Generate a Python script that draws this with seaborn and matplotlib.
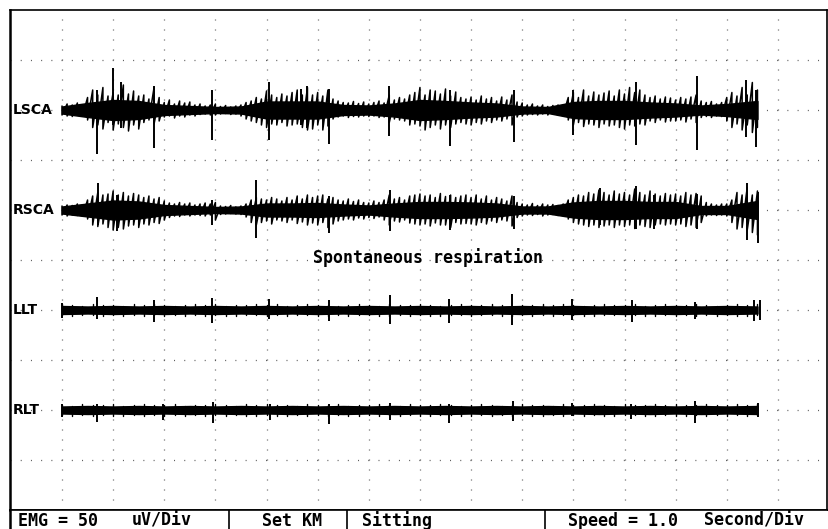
import numpy as np
import pandas as pd
import matplotlib
matplotlib.use("Agg")
import matplotlib.pyplot as plt
import seaborn as sns

sns.set_theme(style="white")
plt.rcParams['font.family'] = ['DejaVu Sans Mono', 'DejaVu Sans']
plt.rcParams['lines.scale_dashes'] = False

# ---------------- data (x in seconds = divisions, y in divisions of 50 uV) ----------------
channels = ["LSCA", "RSCA", "LLT", "RLT"]
baselines = [8, 6, 4, 2]

fine_t = np.round(np.arange(1.0, 14.61, 0.1), 2)     # hair-tip sampling, 137 samples
coarse_t = np.round(np.arange(1.0, 14.61, 0.2), 2)   # 69 samples
core_t = [1.0, 1.5, 2.0, 2.5, 3.0, 3.5, 4.0, 4.5, 5.0, 5.5, 6.0, 6.5, 7.0, 7.5,
          8.0, 8.5, 9.0, 9.5, 10.0, 10.5, 11.0, 11.5, 12.0, 12.5, 13.0, 13.5, 14.0, 14.6]

# hair tips above / below baseline
lsca_upper = [0.08, 0.12, 0.10, 0.14, 0.09, 0.25, 0.40, 0.30, 0.45, 0.28,
              0.35, 0.30, 0.50, 0.32, 0.38, 0.28, 0.30, 0.22, 0.45, 0.25,
              0.15, 0.20, 0.12, 0.18, 0.14, 0.16, 0.10, 0.12, 0.08, 0.10,
              0.12, 0.07, 0.09, 0.06, 0.08, 0.10, 0.15, 0.18, 0.25, 0.22,
              0.38, 0.30, 0.25, 0.32, 0.28, 0.35, 0.40, 0.30, 0.45, 0.30,
              0.35, 0.28, 0.40, 0.22, 0.18, 0.15, 0.14, 0.17, 0.13, 0.16,
              0.12, 0.15, 0.18, 0.14, 0.30, 0.20, 0.25, 0.22, 0.30, 0.35,
              0.45, 0.30, 0.40, 0.38, 0.32, 0.42, 0.28, 0.36, 0.25, 0.22,
              0.26, 0.20, 0.28, 0.22, 0.25, 0.18, 0.26, 0.20, 0.30, 0.16,
              0.14, 0.10, 0.12, 0.08, 0.10, 0.07, 0.09, 0.10, 0.08, 0.25,
              0.35, 0.25, 0.40, 0.28, 0.36, 0.30, 0.34, 0.38, 0.28, 0.40,
              0.32, 0.45, 0.35, 0.40, 0.30, 0.25, 0.28, 0.22, 0.26, 0.24,
              0.20, 0.25, 0.22, 0.26, 0.30, 0.18, 0.15, 0.17, 0.12, 0.15,
              0.25, 0.35, 0.28, 0.45, 0.30, 0.55, 0.40]
lsca_lower = [0.10, 0.12, 0.13, 0.10, 0.12, 0.20, 0.35, 0.30, 0.38, 0.25,
              0.40, 0.28, 0.35, 0.42, 0.30, 0.38, 0.25, 0.20, 0.28, 0.22,
              0.14, 0.12, 0.16, 0.12, 0.14, 0.10, 0.12, 0.09, 0.08, 0.10,
              0.10, 0.08, 0.07, 0.09, 0.08, 0.12, 0.18, 0.22, 0.25, 0.30,
              0.35, 0.28, 0.30, 0.25, 0.32, 0.30, 0.28, 0.35, 0.40, 0.38,
              0.30, 0.40, 0.32, 0.18, 0.14, 0.12, 0.15, 0.13, 0.14, 0.12,
              0.13, 0.12, 0.15, 0.14, 0.25, 0.18, 0.20, 0.22, 0.30, 0.28,
              0.32, 0.40, 0.35, 0.30, 0.38, 0.30, 0.35, 0.28, 0.25, 0.28,
              0.30, 0.25, 0.28, 0.22, 0.25, 0.20, 0.22, 0.18, 0.30, 0.14,
              0.12, 0.10, 0.09, 0.10, 0.08, 0.10, 0.07, 0.09, 0.10, 0.20,
              0.30, 0.25, 0.33, 0.28, 0.30, 0.35, 0.28, 0.32, 0.30, 0.35,
              0.38, 0.30, 0.32, 0.28, 0.30, 0.22, 0.25, 0.20, 0.24, 0.22,
              0.22, 0.20, 0.24, 0.18, 0.25, 0.15, 0.13, 0.15, 0.12, 0.13,
              0.22, 0.35, 0.28, 0.40, 0.30, 0.45, 0.35]
lsca_core = [0.07, 0.14, 0.20, 0.18, 0.10, 0.08, 0.06, 0.07, 0.17, 0.17, 0.17, 0.10, 0.09, 0.13,
             0.20, 0.18, 0.15, 0.13, 0.07, 0.06, 0.16, 0.18, 0.18, 0.15, 0.13, 0.09, 0.12, 0.18]
lsca_spike_t = [1.69, 2.00, 2.16, 2.79, 3.94, 5.05, 5.67, 5.80, 6.22, 7.40,
                8.59, 9.84, 11.00, 12.22, 13.42, 14.38, 14.58]
lsca_spike_up = [0.40, 0.85, 0.55, 0.48, 0.41, 0.55, 0.43, 0.48, 0.43, 0.47,
                 0.40, 0.41, 0.40, 0.55, 0.68, 0.60, 0.40]
lsca_spike_dn = [0.87, 0.30, 0.35, 0.75, 0.59, 0.60, 0.30, 0.35, 0.68, 0.52,
                 0.72, 0.63, 0.50, 0.70, 0.79, 0.53, 0.74]

rsca_upper = [0.08, 0.10, 0.09, 0.12, 0.10, 0.20, 0.28, 0.35, 0.30, 0.32,
              0.38, 0.30, 0.35, 0.28, 0.33, 0.30, 0.25, 0.28, 0.22, 0.25,
              0.18, 0.14, 0.12, 0.15, 0.12, 0.14, 0.10, 0.12, 0.14, 0.12,
              0.15, 0.08, 0.07, 0.09, 0.06, 0.08, 0.12, 0.20, 0.25, 0.22,
              0.20, 0.25, 0.22, 0.18, 0.25, 0.20, 0.28, 0.22, 0.30, 0.25,
              0.28, 0.30, 0.22, 0.25, 0.20, 0.18, 0.22, 0.17, 0.20, 0.15,
              0.14, 0.18, 0.15, 0.20, 0.30, 0.22, 0.25, 0.20, 0.28, 0.30,
              0.32, 0.28, 0.30, 0.25, 0.33, 0.27, 0.30, 0.25, 0.28, 0.30,
              0.25, 0.30, 0.22, 0.28, 0.20, 0.25, 0.22, 0.18, 0.28, 0.15,
              0.12, 0.10, 0.13, 0.09, 0.12, 0.10, 0.11, 0.09, 0.12, 0.20,
              0.25, 0.30, 0.28, 0.35, 0.32, 0.40, 0.35, 0.30, 0.38, 0.32,
              0.35, 0.30, 0.42, 0.35, 0.30, 0.38, 0.32, 0.28, 0.33, 0.30,
              0.32, 0.28, 0.35, 0.30, 0.33, 0.28, 0.15, 0.12, 0.10, 0.12,
              0.12, 0.20, 0.35, 0.30, 0.45, 0.30, 0.38]
rsca_lower = [0.10, 0.12, 0.10, 0.11, 0.12, 0.18, 0.30, 0.33, 0.28, 0.35,
              0.40, 0.35, 0.38, 0.32, 0.30, 0.35, 0.28, 0.30, 0.25, 0.27,
              0.20, 0.15, 0.12, 0.13, 0.10, 0.12, 0.10, 0.11, 0.12, 0.10,
              0.20, 0.09, 0.08, 0.07, 0.08, 0.09, 0.14, 0.25, 0.30, 0.25,
              0.22, 0.28, 0.20, 0.22, 0.25, 0.20, 0.27, 0.24, 0.30, 0.26,
              0.30, 0.25, 0.35, 0.28, 0.22, 0.20, 0.18, 0.20, 0.16, 0.18,
              0.15, 0.17, 0.14, 0.20, 0.30, 0.22, 0.24, 0.20, 0.26, 0.28,
              0.30, 0.28, 0.32, 0.26, 0.30, 0.30, 0.35, 0.25, 0.28, 0.27,
              0.28, 0.30, 0.25, 0.28, 0.22, 0.25, 0.20, 0.22, 0.32, 0.15,
              0.12, 0.10, 0.11, 0.09, 0.12, 0.10, 0.09, 0.11, 0.10, 0.18,
              0.25, 0.28, 0.30, 0.33, 0.30, 0.35, 0.32, 0.30, 0.35, 0.30,
              0.33, 0.30, 0.37, 0.30, 0.33, 0.35, 0.30, 0.28, 0.30, 0.28,
              0.30, 0.28, 0.33, 0.30, 0.35, 0.25, 0.12, 0.10, 0.11, 0.10,
              0.12, 0.25, 0.38, 0.35, 0.40, 0.45, 0.50]
rsca_core = [0.07, 0.13, 0.19, 0.17, 0.10, 0.08, 0.06, 0.07, 0.13, 0.13, 0.14, 0.11, 0.09, 0.13,
             0.16, 0.16, 0.15, 0.13, 0.07, 0.07, 0.15, 0.18, 0.18, 0.16, 0.16, 0.08, 0.08, 0.18]
rsca_spike_t = [1.70, 2.07, 3.94, 4.80, 6.22, 7.41, 8.59, 9.84, 11.52, 12.22,
                12.58, 13.42, 14.40, 14.62]
rsca_spike_up = [0.55, 0.30, 0.20, 0.61, 0.28, 0.40, 0.30, 0.28, 0.45, 0.48,
                 0.30, 0.33, 0.55, 0.37]
rsca_spike_dn = [0.30, 0.41, 0.30, 0.55, 0.45, 0.41, 0.40, 0.37, 0.30, 0.37,
                 0.37, 0.37, 0.60, 0.65]

llt_upper = [0.12, 0.10, 0.09, 0.12, 0.10, 0.11, 0.09, 0.12, 0.10, 0.12,
             0.11, 0.09, 0.10, 0.12, 0.10, 0.12, 0.09, 0.11, 0.10, 0.12,
             0.10, 0.13, 0.09, 0.11, 0.12, 0.10, 0.11, 0.09, 0.10, 0.12,
             0.11, 0.09, 0.12, 0.10, 0.11, 0.12, 0.10, 0.09, 0.11, 0.12,
             0.10, 0.11, 0.13, 0.10, 0.09, 0.11, 0.10, 0.12, 0.10, 0.12,
             0.11, 0.09, 0.10, 0.12, 0.11, 0.10, 0.12, 0.09, 0.11, 0.12,
             0.10, 0.11, 0.12, 0.10, 0.09, 0.11, 0.12, 0.10, 0.12]
llt_lower = [0.10, 0.12, 0.10, 0.09, 0.12, 0.10, 0.11, 0.09, 0.12, 0.10,
             0.12, 0.10, 0.11, 0.09, 0.12, 0.10, 0.11, 0.12, 0.09, 0.10,
             0.11, 0.10, 0.12, 0.09, 0.10, 0.12, 0.11, 0.10, 0.12, 0.09,
             0.10, 0.12, 0.11, 0.09, 0.12, 0.10, 0.11, 0.12, 0.10, 0.09,
             0.12, 0.10, 0.09, 0.11, 0.12, 0.10, 0.12, 0.09, 0.11, 0.10,
             0.10, 0.12, 0.11, 0.09, 0.10, 0.12, 0.10, 0.11, 0.12, 0.09,
             0.11, 0.10, 0.12, 0.09, 0.11, 0.10, 0.12, 0.11, 0.10]
llt_core = [0.08, 0.07, 0.08, 0.07, 0.08, 0.07, 0.08, 0.07, 0.08, 0.07, 0.08, 0.07, 0.08, 0.07,
            0.08, 0.07, 0.08, 0.07, 0.08, 0.07, 0.08, 0.07, 0.08, 0.07, 0.08, 0.07, 0.08, 0.07]
llt_spike_t = [1.00, 1.68, 2.80, 3.93, 5.04, 6.22, 7.42, 8.57, 9.80, 10.97,
               12.15, 13.37, 14.53, 14.64]
llt_spike_up = [0.15, 0.27, 0.20, 0.25, 0.23, 0.20, 0.30, 0.23, 0.32, 0.22,
                0.20, 0.17, 0.20, 0.20]
llt_spike_dn = [0.15, 0.18, 0.23, 0.25, 0.18, 0.22, 0.27, 0.25, 0.30, 0.20,
                0.23, 0.18, 0.22, 0.20]

rlt_upper = [0.11, 0.09, 0.12, 0.10, 0.11, 0.12, 0.09, 0.10, 0.12, 0.11,
             0.10, 0.12, 0.09, 0.11, 0.10, 0.12, 0.11, 0.09, 0.12, 0.10,
             0.12, 0.10, 0.11, 0.09, 0.12, 0.11, 0.10, 0.12, 0.09, 0.11,
             0.10, 0.12, 0.11, 0.09, 0.12, 0.10, 0.11, 0.12, 0.10, 0.09,
             0.11, 0.12, 0.10, 0.09, 0.11, 0.12, 0.10, 0.11, 0.09, 0.12,
             0.10, 0.11, 0.12, 0.10, 0.09, 0.12, 0.11, 0.10, 0.12, 0.11,
             0.12, 0.10, 0.11, 0.12, 0.10, 0.11, 0.12, 0.11, 0.12]
rlt_lower = [0.10, 0.12, 0.10, 0.11, 0.09, 0.12, 0.11, 0.10, 0.12, 0.09,
             0.11, 0.10, 0.12, 0.10, 0.11, 0.09, 0.12, 0.10, 0.11, 0.12,
             0.09, 0.11, 0.12, 0.10, 0.11, 0.09, 0.12, 0.10, 0.11, 0.12,
             0.10, 0.11, 0.09, 0.12, 0.10, 0.11, 0.12, 0.10, 0.09, 0.11,
             0.12, 0.10, 0.11, 0.09, 0.12, 0.10, 0.11, 0.12, 0.10, 0.11,
             0.09, 0.12, 0.10, 0.11, 0.12, 0.10, 0.09, 0.11, 0.12, 0.10,
             0.11, 0.12, 0.10, 0.11, 0.09, 0.12, 0.10, 0.11, 0.10]
rlt_core = [0.07, 0.08, 0.07, 0.08, 0.07, 0.08, 0.07, 0.08, 0.07, 0.08, 0.07, 0.08, 0.07, 0.08,
            0.07, 0.08, 0.07, 0.08, 0.07, 0.08, 0.07, 0.08, 0.07, 0.08, 0.07, 0.08, 0.07, 0.08]
rlt_spike_t = [1.00, 1.68, 2.97, 3.95, 5.06, 6.22, 7.42, 8.57, 9.82, 10.97,
               12.13, 13.37, 14.62]
rlt_spike_up = [0.13, 0.12, 0.12, 0.17, 0.12, 0.12, 0.15, 0.12, 0.19, 0.15,
                0.12, 0.19, 0.15]
rlt_spike_dn = [0.13, 0.23, 0.20, 0.25, 0.20, 0.28, 0.20, 0.25, 0.21, 0.12,
                0.17, 0.25, 0.13]

annotation = "Spontaneous respiration"
status_items = ["EMG = 50", "uV/Div", "Set KM", "Sitting", "Speed = 1.0", "Second/Div"]

traces = {
    "LSCA": (fine_t, lsca_upper, lsca_lower, lsca_core, lsca_spike_t, lsca_spike_up, lsca_spike_dn),
    "RSCA": (fine_t, rsca_upper, rsca_lower, rsca_core, rsca_spike_t, rsca_spike_up, rsca_spike_dn),
    "LLT": (coarse_t, llt_upper, llt_lower, llt_core, llt_spike_t, llt_spike_up, llt_spike_dn),
    "RLT": (coarse_t, rlt_upper, rlt_lower, rlt_core, rlt_spike_t, rlt_spike_up, rlt_spike_dn),
}
scribble = {"LSCA": True, "RSCA": True, "LLT": False, "RLT": False}

# ---------------- figure ----------------
W, H = 829, 529
fig = plt.figure(figsize=(W / 100, H / 100), dpi=100)
fig.patch.set_facecolor("white")
L, R, T, B = 10, 827, 10, 510
ax = fig.add_axes([L / W, 1 - B / H, (R - L) / W, (B - T) / H])
ax.set_facecolor("white")
ax.set_xlim(-0.017, 15.96)
ax.set_ylim(0, 10)

# dotted oscilloscope grid
ax.set_xticks(range(1, 16))
ax.set_yticks(range(1, 10))
ax.tick_params(length=0, labelbottom=False, labelleft=False)
ax.set_axisbelow(True)
ax.xaxis.grid(True, color="#555555", linewidth=0.9, linestyle=(0, (0.7, 6.5)))
ax.yaxis.grid(True, color="#555555", linewidth=0.9, linestyle=(0, (0.7, 6.66)))
for side, sp in ax.spines.items():
    sp.set_visible(True)
    sp.set_color("black")
    sp.set_linewidth(1.2)
ax.spines["left"].set_linewidth(1.8)

for name, base in zip(channels, baselines):
    ht, up, lo, core, st, su, sd = traces[name]
    up = np.asarray(up)
    lo = np.asarray(lo)
    core = np.asarray(core)
    # solid core of the trace
    ax.fill_between(core_t, base - core, base + core, color="black", linewidth=1.0, zorder=3)
    pen = pd.DataFrame({
        "t": np.repeat(ht, 2),
        "v": np.ravel(np.column_stack([base + up, base - lo])),
        "k": np.repeat(np.arange(len(ht)), 2),
    })
    if scribble[name]:
        # pen scribble: up to each upper hair tip, down to each lower one
        sns.lineplot(data=pen, x="t", y="v", estimator=None, sort=False,
                     color="black", linewidth=1.1, ax=ax, legend=False, zorder=4)
    else:
        # short vertical strokes only (fuzzy band)
        sns.lineplot(data=pen, x="t", y="v", units="k", estimator=None, sort=False,
                     color="black", linewidth=1.0, ax=ax, legend=False, zorder=4)
    # isolated large deflections
    ax.vlines(st, base - np.asarray(sd), base + np.asarray(su), color="black",
              linewidth=1.4, zorder=4)
    ax.text((13 - L) / (R - L), base, name, transform=ax.get_yaxis_transform(),
            ha="left", va="center", fontsize=10, fontweight="bold",
            family="DejaVu Sans", color="black")

ax.set_xlabel("")
ax.set_ylabel("")
ax.text(5.91, 5.04, annotation, ha="left", va="center", fontsize=12,
        fontweight="bold", color="black")

# status bar
bar = fig.add_axes([L / W, 0, (R - L) / W, (H - B) / H])
bar.set_xlim(L, R)
bar.set_ylim(0, H - B)
bar.set_xticks([])
bar.set_yticks([])
bar.set_facecolor("white")
for side, sp in bar.spines.items():
    sp.set_visible(side in ("left", "top"))
    sp.set_color("black")
bar.spines["left"].set_linewidth(1.8)
bar.spines["top"].set_linewidth(1.2)
for xs in (229, 347, 545):
    bar.axvline(xs, color="black", linewidth=1.2)
status_x = [18, 132, 262, 362, 568, 704]
for s, xs in zip(status_items, status_x):
    bar.text(xs, 8.5, s, ha="left", va="center", fontsize=12, fontweight="bold",
             color="black")

fig.savefig("out.png", dpi=100, facecolor="white")
